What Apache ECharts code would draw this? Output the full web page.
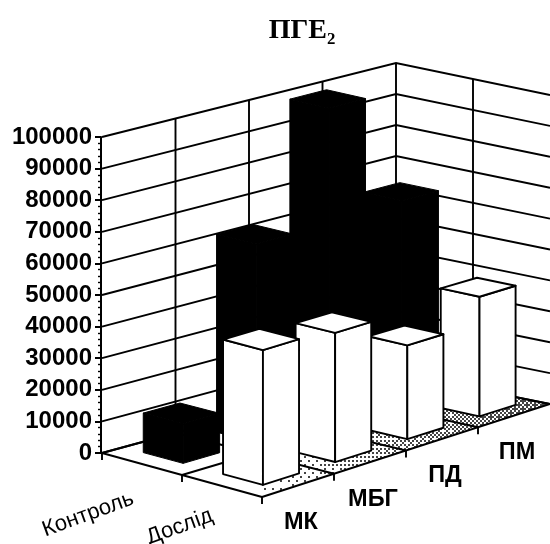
<!DOCTYPE html>
<html><head><meta charset="utf-8">
<style>html,body{margin:0;padding:0;background:#fff}#c{width:550px;height:544px}</style>
<script src="https://cdn.jsdelivr.net/npm/echarts@6/dist/echarts.min.js"></script>
</head><body><div id="c"></div>
<script>
var titleText = 'ПГЕ₂';
var categories = ['МК', 'МБГ', 'ПД', 'ПМ'];
var seriesNames = ['Контроль', 'Дослід'];
var controlValues = [12500, 63000, 100000, 64000];
var experimentValues = [42500, 41000, 30000, 38500];
var yTicks = [0, 10000, 20000, 30000, 40000, 50000, 60000, 70000, 80000, 90000, 100000];

var GRID = {left: 101, top: 137, width: 295, height: 316};
// Projection frame of the 3D box: floor corners and wall heights
var O = [102, 453], F = [262, 497], R = [550, 404], B = [396, 373];
var HO = 316, HF = 318, HR = 309, HB = 310;
var BAR_U0 = 0.29, BAR_U1 = 0.79, BAR_V0 = 0.25, BAR_V1 = 0.75;

function project(fu, fv, h) {
  var ax = O[0] + (B[0] - O[0]) * fu, ay = O[1] + (B[1] - O[1]) * fu;
  var bx = F[0] + (R[0] - F[0]) * fu, by = F[1] + (R[1] - F[1]) * fu;
  var ha = HO + (HB - HO) * fu, hb = HF + (HR - HF) * fu;
  return [ax + (bx - ax) * fv, ay + (by - ay) * fv - h * (ha + (hb - ha) * fv)];
}
// Uses the library's scales: category position and value -> fractions of the axes
function fracs(api, u, val) {
  var p0 = api.coord([0, 0]), p = api.coord([u, val]), p4 = api.coord([categories.length, 100000]);
  return {fu: (p[0] - p0[0]) / (p4[0] - p0[0]), h: (p0[1] - p[1]) / (p0[1] - p4[1])};
}
var nS = seriesNames.length, nC = categories.length;
var LINE = {stroke: '#000', lineWidth: 1.9, fill: null};

// Ordered-dither stipple for the floor: sparse on the left, dense towards the right
function makeStipple() {
  var cv = document.createElement('canvas');
  cv.width = 550; cv.height = 544;
  var g = cv.getContext('2d');
  g.fillStyle = '#fff'; g.fillRect(0, 0, 550, 544);
  var M = [[0,8,2,10],[12,4,14,6],[3,11,1,9],[15,7,13,5]];
  g.fillStyle = '#444';
  for (var y = 0; y < 544; y += 2) for (var x = 0; x < 550; x += 2) {
    var d = Math.max(0, (x - 250) / 300) * 0.7;
    if ((M[(y / 2) % 4][(x / 2) % 4] + 0.5) / 16 < d) g.fillRect(x, y, 2, 2);
  }
  return cv;
}
var stipple = makeStipple();

function poly(pts, style) { return {type: 'polygon', shape: {points: pts}, style: style}; }
function line(pts, style) { return {type: 'polyline', shape: {points: pts}, style: style || LINE}; }

function renderFrame(params, api) {
  var ch = [];
  ch.push(poly([project(0,0,0), project(1,0,0), project(1,1,0), project(0,1,0)], {
    fill: {image: stipple, repeat: 'no-repeat'}
  }));
  for (var i = 1; i <= nC; i++) {
    var fu = fracs(api, i, 0).fu;
    ch.push(line([project(fu,0,0), project(fu,0,1)]));
  }
  for (var j = 1; j < nS; j++) {
    ch.push(line([project(1,j/nS,0), project(1,j/nS,1)]));
  }
  for (var k = 0; k <= nC; k++) {
    var f = fracs(api, k, 0).fu;
    ch.push(line([project(f,0,0), project(f,1,0)]));
    if (k < nC) {
      var e = project(f,1,0);
      ch.push(line([e, [e[0], e[1] + 7]]));
    }
  }
  for (var m = 0; m <= nS; m++) {
    var q = project(0,m/nS,0);
    ch.push(line([project(0,m/nS,0), project(1,m/nS,0)]));
    if (m < nS) ch.push(line([q, [q[0], q[1] + 7]]));
  }
  return {type: 'group', children: ch};
}
function renderGrid(params, api) {
  var h = fracs(api, 0, api.value(1)).h;
  return line([project(0,0,h), project(1,0,h), project(1,1,h)]);
}
function renderBar(params, api) {
  var cat = api.value(0), row = api.value(2), val = api.value(1);
  var u0 = fracs(api, cat + BAR_U0, 0).fu, u1 = fracs(api, cat + BAR_U1, 0).fu;
  var v0 = (row + BAR_V0) / nS, v1 = (row + BAR_V1) / nS;
  var h = fracs(api, cat, val).h;
  var dark = row === 0;
  var st = dark ? {fill: '#000', stroke: '#000', lineWidth: 1}
                : {fill: '#fff', stroke: '#000', lineWidth: 1.9, lineJoin: 'round'};
  return {type: 'group', children: [
    poly([project(u0,v0,0), project(u0,v1,0), project(u0,v1,h), project(u0,v0,h)], st),
    poly([project(u0,v1,0), project(u1,v1,0), project(u1,v1,h), project(u0,v1,h)], st),
    poly([project(u0,v0,h), project(u0,v1,h), project(u1,v1,h), project(u1,v0,h)], st)
  ]};
}
function renderCatLabel(params, api) {
  var i = api.value(0);
  var p = project(fracs(api, i + 0.5, 0).fu, 1, 0);
  return {type: 'text', x: p[0] + 3, y: p[1] + 37, style: {
    text: categories[i], align: 'center', verticalAlign: 'middle',
    font: 'bold 23.5px "Liberation Sans"', fill: '#000'}};
}
function renderSerLabel(params, api) {
  var i = api.value(0);
  var p = project(0, (i + 0.5) / nS, 0);
  return {type: 'text', x: p[0] - 9 - i, y: p[1] + 34 - 5 * i, rotation: 20 * Math.PI / 180, style: {
    text: seriesNames[i], align: 'right', verticalAlign: 'middle',
    font: '22px "Liberation Sans"', fill: '#000'}};
}
var barData = [];
for (var r = 0; r < nS; r++) {
  var vals = r === 0 ? controlValues : experimentValues;
  for (var c = nC - 1; c >= 0; c--) barData.push([c, vals[c], r]);
}
var chart = echarts.init(document.getElementById('c'), null, {renderer: 'canvas'});
chart.setOption({
  animation: false,
  backgroundColor: '#fff',
  title: {text: titleText, left: 297, top: 12, textAlign: 'center',
    textStyle: {fontFamily: 'Liberation Serif', fontWeight: 'bold', fontSize: 28, color: '#000'}},
  grid: GRID,
  xAxis: {type: 'value', min: 0, max: categories.length, show: false},
  yAxis: {type: 'value', min: 0, max: 100000, interval: 10000,
    axisLine: {show: true, lineStyle: {color: '#000', width: 2}},
    axisTick: {show: true, length: 6, lineStyle: {color: '#000', width: 2}},
    minorTick: {show: true, splitNumber: 5, length: 3, lineStyle: {color: '#000', width: 1.4}},
    splitLine: {show: false},
    axisLabel: {margin: 9, color: '#000', fontFamily: 'Liberation Sans', fontWeight: 'bold', fontSize: 24, formatter: function (v) { return String(v); }}
  },
  series: [
    {type: 'custom', name: 'frame', z: 1, silent: true, renderItem: renderFrame, data: [[0, 0]], clip: false},
    {type: 'custom', name: 'grid', z: 2, silent: true, renderItem: renderGrid, data: yTicks.map(function (t) { return [0, t]; }), clip: false},
    {type: 'custom', name: 'bars', z: 3, silent: true, renderItem: renderBar, data: barData, clip: false},
    {type: 'custom', name: 'catLabels', z: 4, silent: true, renderItem: renderCatLabel, data: categories.map(function (n, i) { return [i, 0]; }), clip: false},
    {type: 'custom', name: 'serLabels', z: 4, silent: true, renderItem: renderSerLabel, data: seriesNames.map(function (n, i) { return [i, 0]; }), clip: false}
  ]
});
</script></body></html>
